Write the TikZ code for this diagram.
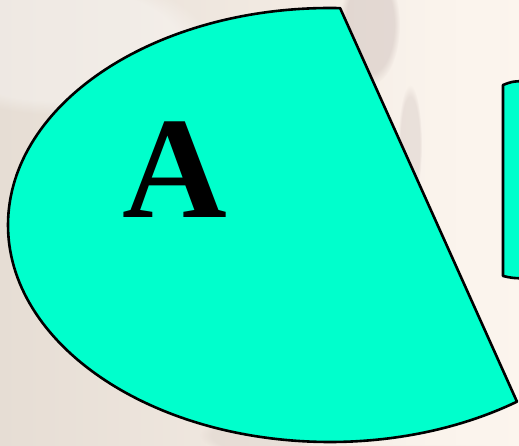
\documentclass[tikz,border=0pt]{standalone}
\usepackage{fontspec}
\setmainfont{Liberation Serif}
\usetikzlibrary{fadings,calc}
\definecolor{aqua}{HTML}{00FFCC}
\definecolor{bgleft}{HTML}{E6DDD4}
\definecolor{bgright}{HTML}{FCF5EE}
\definecolor{shade}{HTML}{D3C6C1}
\tikzset{
  panel/.style={fill=aqua, draw=black, line width=2.6pt, line join=round},
  blob/.style={fill=shade, path fading=circle with fuzzy edge 20 percent}
}
\begin{document}
\begin{tikzpicture}[x=1pt,y=1pt]
\useasboundingbox (0,0) rectangle (519,445);
\clip (0,0) rectangle (519,445);
% background
\shade[left color=bgleft, right color=bgright, shading angle=90] (0,0) rectangle (519,445);
\fill[bgright, path fading=west] (330,0) rectangle (519,445);
\fill[white, opacity=0.35, path fading=circle with fuzzy edge 20 percent] (60,400) ellipse (150 and 70);
\fill[blob, opacity=0.55] (370,420) ellipse (30 and 60);
\fill[blob, opacity=0.4] (410,300) ellipse (12 and 60);
\fill[blob, opacity=0.3] (260,10) ellipse (60 and 20);
% partial shape on the right
\draw[panel] (525,364) .. controls (512,363.5) .. (503,360) -- (503,169) .. controls (512,167) .. (525,166.5);
% main shape: ellipse cut by a straight line
\coordinate (c) at (330,220);
\draw[panel] ($(c)+({322*cos(88.2)},{217*sin(88.2)})$) coordinate (top)
  arc[start angle=88.2, end angle=305.5, x radius=322, y radius=217] coordinate (bot)
  -- cycle;
\node[anchor=base, inner sep=0pt, font=\fontsize{145}{145}\selectfont\bfseries] (A) at (175,228) {A};
\end{tikzpicture}
\end{document}
